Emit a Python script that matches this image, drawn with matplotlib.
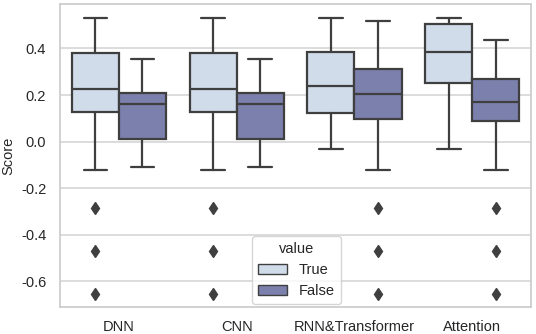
import numpy as np
import matplotlib
matplotlib.use("Agg")
import matplotlib.pyplot as plt
import seaborn as sns
from matplotlib.patches import Patch

sns.set_theme(style="whitegrid")
plt.rcParams['font.family'] = ['Liberation Sans', 'DejaVu Sans']

# Models on x axis and hue levels
models = ["DNN", "CNN", "RNN&Transformer", "Attention"]
hue_levels = ["True", "False"]
hue_colors = ["#d0dcea", "#7c80ad"]

# Box statistics: (whislo, q1, med, q3, whishi)
true_whislo = [-0.12, -0.12, -0.033, -0.033]
true_q1 = [0.126, 0.126, 0.123, 0.251]
true_med = [0.226, 0.226, 0.240, 0.386]
true_q3 = [0.379, 0.379, 0.384, 0.506]
true_whishi = [0.533, 0.533, 0.533, 0.533]
true_fliers = [[-0.285, -0.47, -0.652], [-0.285, -0.47, -0.652], [], []]

false_whislo = [-0.108, -0.108, -0.12, -0.12]
false_q1 = [0.013, 0.013, 0.098, 0.089]
false_med = [0.163, 0.163, 0.206, 0.171]
false_q3 = [0.209, 0.209, 0.313, 0.268]
false_whishi = [0.353, 0.353, 0.519, 0.438]
false_fliers = [[], [], [-0.285, -0.47, -0.655], [-0.285, -0.47, -0.655]]

yticks = [-0.6, -0.4, -0.2, 0.0, 0.2, 0.4]


def make_stats(lo, q1, med, q3, hi, fl):
    return [dict(whislo=a, q1=b, med=c, q3=d, whishi=e, fliers=f)
            for a, b, c, d, e, f in zip(lo, q1, med, q3, hi, fl)]


stats = [
    make_stats(true_whislo, true_q1, true_med, true_q3, true_whishi, true_fliers),
    make_stats(false_whislo, false_q1, false_med, false_q3, false_whishi, false_fliers),
]

fig = plt.figure(figsize=(5.36, 3.34), dpi=100)
ax = fig.add_axes([0.112, 0.08, 0.879, 0.908])

edge = "#3f3f3f"
width = 0.4
x = np.arange(len(models))
for j, (st, col) in enumerate(zip(stats, hue_colors)):
    pos = x - 0.2 + j * width
    ax.bxp(st, positions=pos, widths=width, patch_artist=True,
           boxprops=dict(facecolor=col, edgecolor=edge, linewidth=1.6),
           medianprops=dict(color=edge, linewidth=1.6),
           whiskerprops=dict(color=edge, linewidth=1.6),
           capprops=dict(color=edge, linewidth=1.6),
           flierprops=dict(marker="d", markerfacecolor=edge, markeredgecolor=edge,
                           markersize=6),
           capwidths=width / 2, manage_ticks=False, zorder=2)

ax.set_xlim(-0.5, len(models) - 0.5)
ax.set_ylim(-0.711, 0.591)
ax.set_xticks(x)
ax.set_xticklabels(models)
ax.set_yticks(yticks)
ax.set_yticklabels([f"{v:.1f}" for v in yticks])
ax.tick_params(labelsize=10.5)
ax.tick_params(axis="x", pad=3)
ax.tick_params(axis="y", pad=4)
ax.set_ylabel("Score", fontsize=10.5, labelpad=4)
ax.grid(axis="x", visible=False)
ax.grid(axis="y", color="#d6d6d6", linewidth=1.2)
for s in ax.spines.values():
    s.set_color("#cccccc")

handles = [Patch(facecolor=c, edgecolor=edge, label=l) for c, l in zip(hue_colors, hue_levels)]
ax.legend(handles=handles, title="value", loc="lower left",
          bbox_to_anchor=(0.408, 0.01), borderaxespad=0, fontsize=10.5,
          title_fontsize=10.5, framealpha=0.8)

fig.savefig("out.png", dpi=100)
